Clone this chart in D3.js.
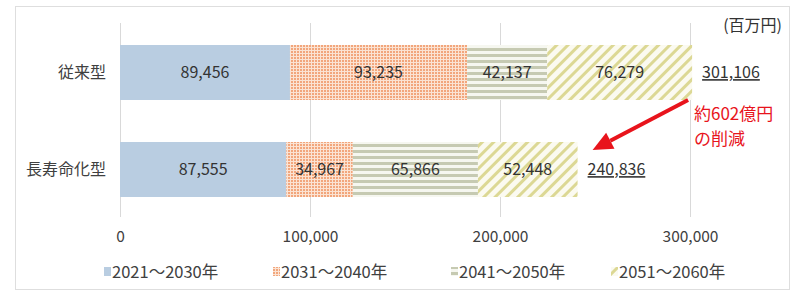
<!DOCTYPE html>
<html>
<head>
<meta charset="utf-8">
<script src="https://cdn.jsdelivr.net/npm/d3@7"></script>
<style>
  body { margin: 0; background: #fff; }
  text { font-family: "Noto Sans CJK JP", "Noto Sans", sans-serif; }
</style>
</head>
<body>
<div id="chart"></div>
<script>
const categories = ['従来型', '長寿命化型'];
const periods = ['2021～2030年', '2031～2040年', '2041～2050年', '2051～2060年'];
const v2021_2030 = [89456, 87555];
const v2031_2040 = [93235, 34967];
const v2041_2050 = [42137, 65866];
const v2051_2060 = [76279, 52448];
const totals = [301106, 240836];
const xTicks = [0, 100000, 200000, 300000];
const unitLabel = '(百万円)';
const noteLines = ['約602億円', 'の削減'];

const width = 791;
const height = 298;

const svg = d3.select('#chart').append('svg')
  .attr('width', width)
  .attr('height', height);

// patterns for the hatched segments
const defs = svg.append('defs');

const pOrange = defs.append('pattern').attr('id', 'p1')
  .attr('patternUnits', 'userSpaceOnUse').attr('width', 3).attr('height', 3);
pOrange.append('rect').attr('width', 3).attr('height', 3).attr('fill', '#fbe3d3');
pOrange.append('rect').attr('width', 2).attr('height', 2).attr('fill', '#f2a67c');

const pGreen = defs.append('pattern').attr('id', 'p2')
  .attr('patternUnits', 'userSpaceOnUse').attr('width', 6).attr('height', 6);
pGreen.append('rect').attr('width', 6).attr('height', 6).attr('fill', '#f6f7f0');
pGreen.append('rect').attr('y', 0).attr('width', 6).attr('height', 3).attr('fill', '#c6cab2');

const pYellow = defs.append('pattern').attr('id', 'p3')
  .attr('patternUnits', 'userSpaceOnUse').attr('width', 8).attr('height', 8)
  .attr('patternTransform', 'rotate(45)');
pYellow.append('rect').attr('width', 8).attr('height', 8).attr('fill', '#fbfaf0');
pYellow.append('rect').attr('width', 3).attr('height', 8).attr('fill', '#dcd894');

const fills = ['#b9cde1', 'url(#p1)', 'url(#p2)', 'url(#p3)'];
const series = [v2021_2030, v2031_2040, v2041_2050, v2051_2060];

// outer frame
svg.append('rect')
  .attr('x', 15.5).attr('y', 6.5)
  .attr('width', 774).attr('height', 283)
  .attr('fill', 'none').attr('stroke', '#dedede');

const x = d3.scaleLinear().domain([0, 300000]).range([120, 690]);
const y = d3.scaleBand().domain(categories).range([24, 218])
  .paddingInner(0.433).paddingOuter(0.2165);

// grid lines
svg.append('g').selectAll('line')
  .data(xTicks)
  .enter().append('line')
    .attr('x1', d => x(d) + 0.5).attr('x2', d => x(d) + 0.5)
    .attr('y1', 23).attr('y2', 217)
    .attr('stroke', '#d9d9d9').attr('stroke-width', 1);

// x axis labels
const xAxis = d3.axisBottom(x).tickValues(xTicks).tickSize(0).tickPadding(0)
  .tickFormat(d3.format(','));
const ax = svg.append('g').attr('transform', 'translate(0,230)').call(xAxis);
ax.select('.domain').remove();
ax.selectAll('text')
  .attr('font-family', '"Noto Sans CJK JP", sans-serif')
  .attr('font-size', '15.5px').attr('fill', '#404040').attr('dy', '0.75em');

// category labels
svg.append('g').selectAll('text')
  .data(categories)
  .enter().append('text')
    .attr('x', 106)
    .attr('y', d => y(d) + y.bandwidth() / 2)
    .attr('dy', '0.35em')
    .attr('text-anchor', 'end')
    .attr('font-size', '16px')
    .attr('fill', '#404040')
    .text(d => d);

// stacked segments
const rows = categories.map((c, i) => {
  let acc = 0;
  return series.map((s, k) => {
    const seg = { cat: c, k: k, v: s[i], x0: acc, x1: acc + s[i] };
    acc += s[i];
    return seg;
  });
}).flat();

const segs = svg.append('g').selectAll('g')
  .data(rows)
  .enter().append('g');

segs.append('rect')
  .attr('x', d => x(d.x0))
  .attr('y', d => y(d.cat))
  .attr('width', d => x(d.x1) - x(d.x0))
  .attr('height', y.bandwidth())
  .attr('fill', d => fills[d.k]);

segs.append('text')
  .attr('x', d => (x(d.x0) + x(d.x1)) / 2)
  .attr('y', d => y(d.cat) + y.bandwidth() / 2)
  .attr('dy', '0.35em')
  .attr('text-anchor', 'middle')
  .attr('font-size', '16px')
  .attr('fill', '#333')
  .text(d => d3.format(',')(d.v));

// totals (underlined)
const tot = svg.append('g').selectAll('g')
  .data(categories)
  .enter().append('g');
tot.append('text')
  .attr('x', (d, i) => x(totals[i]) + 10)
  .attr('y', d => y(d) + y.bandwidth() / 2)
  .attr('dy', '0.35em')
  .attr('font-size', '16px')
  .attr('fill', '#333')
  .attr('text-decoration', 'underline')
  .text((d, i) => d3.format(',')(totals[i]));

// unit label
svg.append('text')
  .attr('x', 782).attr('y', 31)
  .attr('text-anchor', 'end')
  .attr('font-size', '16px')
  .attr('fill', '#333')
  .text(unitLabel);

// reduction arrow + note
const ax0 = x(totals[0]) - 4, ay0 = y(categories[0]) + y.bandwidth();
const ax1 = x(totals[1]) + 15, ay1 = y(categories[1]) + 8;
const ang = Math.atan2(ay1 - ay0, ax1 - ax0);
const headLen = 20, headW = 9;
const bx = ax1 - headLen * Math.cos(ang), by = ay1 - headLen * Math.sin(ang);
svg.append('line')
  .attr('x1', ax0).attr('y1', ay0).attr('x2', bx).attr('y2', by)
  .attr('stroke', '#e8141c').attr('stroke-width', 4);
svg.append('path')
  .attr('d', `M${ax1},${ay1} L${bx + headW * Math.sin(ang)},${by - headW * Math.cos(ang)} L${bx - headW * Math.sin(ang)},${by + headW * Math.cos(ang)} Z`)
  .attr('fill', '#e8141c');

svg.append('g').selectAll('text')
  .data(noteLines)
  .enter().append('text')
    .attr('x', x(300000) + 4)
    .attr('y', (d, i) => 120 + i * 25)
    .attr('font-size', '17px')
    .attr('fill', '#e8141c')
    .text(d => d);

// legend
const legX = [104, 273, 451, 611];
const leg = svg.append('g').selectAll('g')
  .data(periods)
  .enter().append('g')
    .attr('transform', (d, i) => `translate(${legX[i]},272)`);
leg.append('rect')
  .attr('x', 0).attr('y', -5).attr('width', 7).attr('height', 9)
  .attr('fill', (d, i) => fills[i]);
leg.append('text')
  .attr('x', 8).attr('y', 0)
  .attr('dy', '0.35em')
  .attr('font-size', '16.5px')
  .attr('fill', '#404040')
  .text(d => d);
</script>
</body>
</html>
